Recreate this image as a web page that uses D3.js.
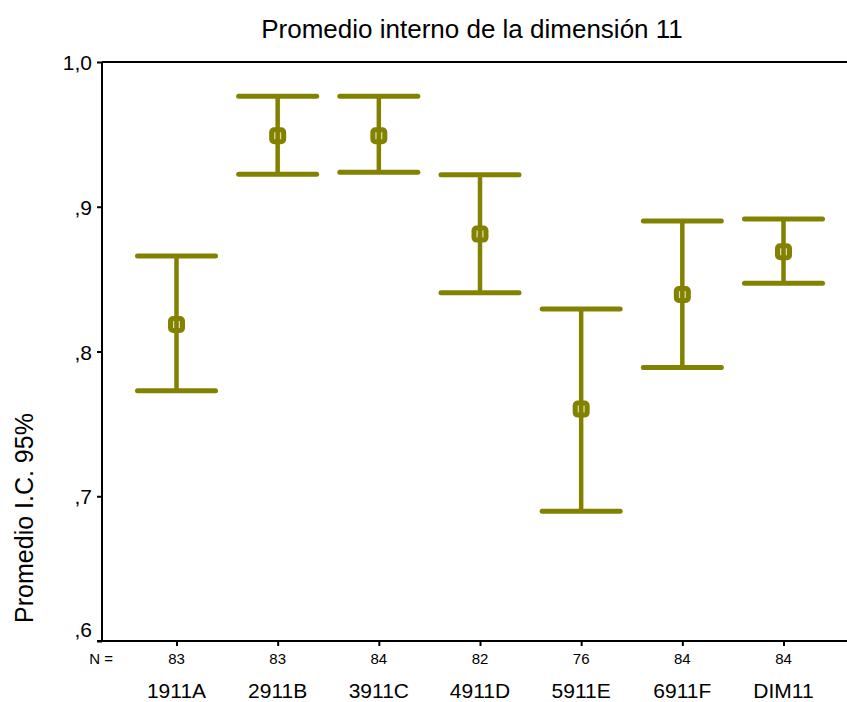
<!DOCTYPE html>
<html>
<head>
<meta charset="utf-8">
<script src="https://cdn.jsdelivr.net/npm/d3@7/dist/d3.min.js"></script>
<style>
  html, body { margin: 0; padding: 0; background: #fff; }
  text { font-family: Arial, "Liberation Sans", sans-serif; fill: #000; }
</style>
</head>
<body>
<svg id="chart" width="847" height="702"></svg>
<script>
const categories = ["1911A", "2911B", "3911C", "4911D", "5911E", "6911F", "DIM11"];
const counts     = [83, 83, 84, 82, 76, 84, 84];
const means      = [0.8187, 0.9490, 0.9490, 0.8811, 0.7602, 0.8394, 0.8689];
const upper      = [0.8660, 0.9763, 0.9763, 0.9221, 0.8293, 0.8901, 0.8915];
const lower      = [0.7728, 0.9224, 0.9238, 0.8406, 0.6897, 0.7890, 0.8471];
const yTicks     = [0.6, 0.7, 0.8, 0.9, 1.0];
const yTickLabels = [",6", ",7", ",8", ",9", "1,0"];
const titleText  = "Promedio interno de la dimensión 11";
const yTitle     = "Promedio I.C. 95%";
const nLabel     = "N =";

const svg = d3.select("#chart");
const plotLeft = 102, plotRight = 847, plotTop = 62, plotBottom = 641;
const color = "#828200";

const x = d3.scalePoint().domain(categories).range([176.5, 783.5]);
const y = d3.scaleLinear().domain([0.6, 1.0]).range([plotBottom, plotTop]);

// Title
svg.append("text")
  .attr("x", 472).attr("y", 38)
  .attr("text-anchor", "middle")
  .style("font-size", "26px")
  .text(titleText);

// Y axis title
svg.append("text")
  .attr("transform", `translate(33,518) rotate(-90)`)
  .attr("text-anchor", "middle")
  .style("font-size", "25px")
  .text(yTitle);

// Top frame line
svg.append("line").attr("x1", plotLeft).attr("x2", plotRight)
  .attr("y1", plotTop).attr("y2", plotTop)
  .attr("stroke", "#000").attr("stroke-width", 2);

// Y axis
const yAxis = d3.axisLeft(y).tickValues(yTicks).tickSize(5).tickFormat("");
const gy = svg.append("g").attr("transform", `translate(${plotLeft},0)`).call(yAxis);
gy.select(".domain").attr("stroke", "#000").attr("stroke-width", 2)
  .attr("d", `M0,${plotTop}V${plotBottom}`);
gy.selectAll(".tick line").attr("stroke", "#000").attr("stroke-width", 2);

svg.selectAll(".ylab").data(yTicks).enter().append("text")
  .attr("class", "ylab")
  .attr("x", 92)
  .attr("y", d => y(d) + (d === 0.6 ? -4 : 8))
  .attr("text-anchor", "end")
  .style("font-size", "21px")
  .text((d, i) => yTickLabels[i]);

// X axis
const xAxis = d3.axisBottom(x).tickSize(5).tickFormat("");
const gx = svg.append("g").attr("transform", `translate(0,${plotBottom})`).call(xAxis);
gx.select(".domain").attr("stroke", "#000").attr("stroke-width", 2)
  .attr("d", `M${plotLeft - 5},0H${plotRight}`);
gx.selectAll(".tick line").attr("stroke", "#000").attr("stroke-width", 2);

// N row
svg.append("text").attr("x", 113).attr("y", 664)
  .attr("text-anchor", "end").style("font-size", "15px").text(nLabel);
svg.selectAll(".nlab").data(categories).enter().append("text")
  .attr("class", "nlab")
  .attr("x", d => x(d)).attr("y", 664)
  .attr("text-anchor", "middle").style("font-size", "15px")
  .text((d, i) => counts[i]);

// Category labels
svg.selectAll(".clab").data(categories).enter().append("text")
  .attr("class", "clab")
  .attr("x", d => x(d)).attr("y", 698)
  .attr("text-anchor", "middle").style("font-size", "21px")
  .text(d => d);

// Error bars
const data = categories.map((c, i) => ({c, m: means[i], lo: lower[i], hi: upper[i]}));
const capHalf = 39;
const bars = svg.append("g").selectAll(".bar").data(data).enter().append("g").attr("class", "bar");

bars.append("rect")
  .attr("x", d => x(d.c) - 6).attr("y", d => y(d.m) - 6)
  .attr("width", 12).attr("height", 12).attr("rx", 2.5)
  .attr("fill", "#dcdcb0").attr("stroke", color).attr("stroke-width", 5);

bars.append("line")
  .attr("x1", d => x(d.c)).attr("x2", d => x(d.c))
  .attr("y1", d => y(d.hi)).attr("y2", d => y(d.lo))
  .attr("stroke", color).attr("stroke-width", 4.5);

bars.append("line")
  .attr("x1", d => x(d.c) - capHalf).attr("x2", d => x(d.c) + capHalf)
  .attr("y1", d => y(d.hi)).attr("y2", d => y(d.hi))
  .attr("stroke", color).attr("stroke-width", 5).attr("stroke-linecap", "round");

bars.append("line")
  .attr("x1", d => x(d.c) - capHalf).attr("x2", d => x(d.c) + capHalf)
  .attr("y1", d => y(d.lo)).attr("y2", d => y(d.lo))
  .attr("stroke", color).attr("stroke-width", 5).attr("stroke-linecap", "round");
</script>
</body>
</html>
